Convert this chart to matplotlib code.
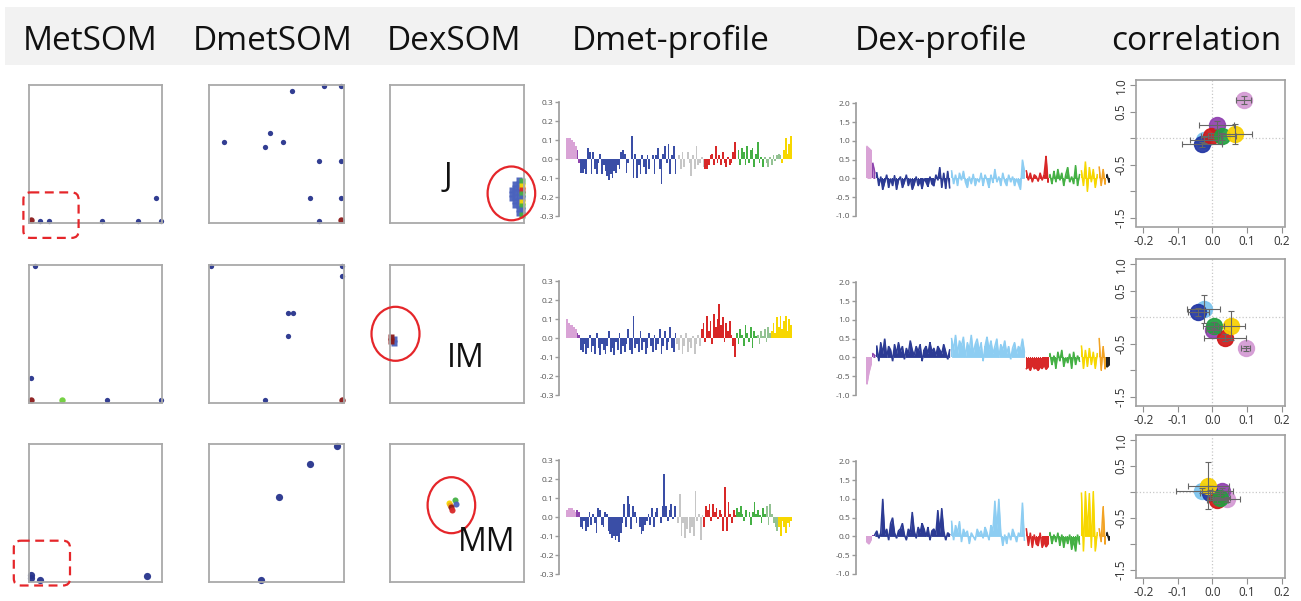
import matplotlib
matplotlib.use('Agg')
import matplotlib.pyplot as plt
from matplotlib.patches import Rectangle, Ellipse, FancyBboxPatch
import numpy as np

W, H = 1301, 601
FONT = ['Open Sans', 'DejaVu Sans']
plt.rcParams['font.family'] = FONT
plt.rcParams['axes.unicode_minus'] = False

# ---------------- text ----------------
titles = ["MetSOM", "DmetSOM", "DexSOM", "Dmet-profile", "Dex-profile", "correlation"]
row_labels = ["J", "IM", "MM"]

# ---------------- colours ----------------
COL = dict(pink='#d9a3d6', purple='#8e44ad', blue='#3a4ea6', navy='#2c3b94',
           lblue='#8dcdf2', gray='#c6c6c6', red='#d82828', green='#44b044',
           lgreen='#93c293', yellow='#f7d700', orange='#f2a324', black='#222222',
           dred='#8b1a1a', som='#27338c', lgr='#6fcf3a', cblue='#2236a3',
           clblue='#7cc4ee', cpink='#d49ad4', cpurple='#9040b0', cred='#d01818',
           cgreen='#22a040', cyellow='#f8d000', sblue='#4a62bd')

# ---------------- SOM maps (unit-box coords, colour) ----------------
metsom_J = [(0.013, 0.017, 'dred'), (0.08, 0.012, 'som'), (0.15, 0.012, 'som'),
            (0.55, 0.012, 'som'), (0.82, 0.012, 'som'), (0.99, 0.012, 'som'),
            (0.953, 0.18, 'som')]
metsom_IM = [(0.044, 0.988, 'som'), (0.013, 0.183, 'som'), (0.013, 0.017, 'dred'),
             (0.247, 0.017, 'lgr'), (0.587, 0.017, 'som'), (0.99, 0.017, 'som')]
metsom_MM = [(0.013, 0.05, 'som'), (0.013, 0.025, 'som'), (0.08, 0.015, 'som'),
             (0.888, 0.042, 'som')]
dmetsom_J = [(0.615, 0.953, 'som'), (0.851, 0.988, 'som'), (0.982, 0.988, 'som'),
             (0.113, 0.585, 'som'), (0.449, 0.649, 'som'), (0.549, 0.585, 'som'),
             (0.413, 0.552, 'som'), (0.815, 0.448, 'som'), (0.982, 0.448, 'som'),
             (0.749, 0.179, 'som'), (0.982, 0.179, 'som'), (0.815, 0.012, 'som'),
             (0.982, 0.017, 'dred')]
dmetsom_IM = [(0.013, 0.988, 'som'), (0.987, 0.988, 'som'), (0.987, 0.918, 'som'),
              (0.585, 0.649, 'som'), (0.621, 0.649, 'som'), (0.588, 0.483, 'som'),
              (0.415, 0.017, 'som'), (0.987, 0.017, 'dred')]
dmetsom_MM = [(0.951, 0.98, 'som'), (0.749, 0.852, 'som'), (0.518, 0.615, 'som'),
              (0.382, 0.012, 'som')]
dexsom_J = [(0.910, 0.24, 'sblue'), (0.910, 0.21, 'sblue'), (0.910, 0.18, 'sblue'),
            (0.935, 0.28, 'sblue'), (0.935, 0.25, 'sblue'), (0.935, 0.22, 'sblue'),
            (0.935, 0.19, 'sblue'), (0.935, 0.16, 'sblue'), (0.935, 0.13, 'sblue'),
            (0.960, 0.31, 'sblue'), (0.960, 0.28, 'sblue'), (0.960, 0.25, 'sblue'),
            (0.960, 0.22, 'sblue'), (0.960, 0.19, 'sblue'), (0.960, 0.16, 'sblue'),
            (0.960, 0.13, 'sblue'), (0.960, 0.10, 'sblue'), (0.960, 0.07, 'sblue'),
            (0.985, 0.30, 'green'), (0.985, 0.27, 'yellow'), (0.985, 0.24, 'red'),
            (0.985, 0.21, 'green'), (0.985, 0.18, 'sblue'), (0.985, 0.15, 'yellow'),
            (0.985, 0.12, 'green'), (0.985, 0.09, 'sblue'), (0.985, 0.06, 'green')]
dexsom_IM = [(0.030, 0.46, 'sblue'), (0.030, 0.435, 'sblue'),
             (0.012, 0.475, 'dred'), (0.012, 0.445, 'dred')]
dexsom_MM = [(0.439, 0.568, 'yellow'), (0.452, 0.556, 'orange'), (0.485, 0.592, 'green'),
             (0.495, 0.563, 'sblue'), (0.459, 0.538, 'dred'), (0.464, 0.521, 'red')]

# ---------------- Dmet profiles ----------------
dmet_colors = ['pink', 'purple', 'blue', 'gray', 'red', 'green', 'lgreen', 'yellow']
dmet_J = [
    [0.11, 0.11, 0.11, 0.10, 0.09, 0.07],
    [0.05, -0.02],
    [-0.07, -0.07, -0.05, -0.08, 0.06, 0.04, -0.08, 0.04, -0.05, -0.08, -0.02, 0.03,
     -0.08, -0.03, -0.06, -0.09, -0.11, -0.08, -0.10, -0.06, -0.07, -0.03, -0.05, 0.04,
     0.05, 0.03, -0.07, -0.02, 0.0, 0.12, -0.10, 0.03, -0.10, -0.03, -0.08, 0.02, -0.04,
     -0.08, 0.02, -0.05, 0.0, 0.02, -0.08, 0.02, 0.06, -0.05, -0.13, 0.03, 0.07, -0.02,
     0.08, -0.08, 0.02, 0.07, -0.08],
    [0.0, 0.02, -0.05, 0.04, -0.04, 0.0, 0.04, -0.02, -0.09, 0.02, -0.05, 0.07, -0.03,
     -0.02, 0.01, -0.04],
    [-0.05, -0.05, -0.03, 0.02, 0.03, -0.03, 0.07, -0.02, 0.02, -0.03, 0.04, -0.02,
     -0.04, 0.01, -0.03, -0.02, 0.04, 0.09, 0.0],
    [0.05, -0.03, 0.06, 0.04, -0.03, 0.07, -0.02, 0.05, 0.06, -0.04, 0.03, 0.09, -0.02,
     0.01, -0.04],
    [0.01, -0.02, -0.04, 0.01, -0.03, 0.02, -0.01, 0.02, 0.03, 0.02],
    [-0.02, 0.05, 0.11, 0.03, 0.08, 0.12],
]
dmet_IM = [
    [0.10, 0.08, 0.07, 0.07, 0.06, 0.05],
    [0.03, 0.02],
    [-0.06, -0.07, -0.03, -0.08, -0.05, 0.02, -0.07, -0.04, -0.08, 0.03, -0.05, -0.09,
     -0.03, -0.06, -0.08, -0.04, 0.04, -0.07, -0.05, -0.09, -0.02, -0.06, 0.03, -0.08,
     -0.04, -0.07, -0.03, 0.05, -0.06, -0.08, 0.12, -0.05, -0.03, -0.07, 0.04, -0.06,
     -0.02, -0.08, -0.05, 0.03, -0.04, -0.07, 0.02, -0.06, -0.03, 0.05, -0.08, -0.04,
     0.04, -0.06, -0.02, 0.06, -0.05, -0.07, 0.03],
    [-0.03, -0.06, 0.02, -0.08, -0.04, 0.03, -0.07, -0.02, -0.05, 0.01, -0.08, -0.03,
     0.02, -0.04],
    [0.05, 0.08, -0.02, 0.12, 0.04, 0.09, -0.03, 0.13, 0.06, 0.10, 0.18, 0.07, 0.11,
     -0.02, 0.08, 0.04, 0.09, 0.02, -0.04, -0.10],
    [0.03, -0.03, 0.05, 0.02, -0.04, 0.07, 0.03, -0.02, 0.06, -0.05, 0.04, 0.01],
    [0.02, -0.03, 0.04, 0.01, 0.05, -0.02, 0.06, 0.03],
    [0.04, 0.08, 0.03, 0.11, 0.06, 0.12, 0.05, 0.09, 0.12, 0.04, 0.10, 0.07],
]
dmet_MM = [
    [0.04, 0.05, 0.05, 0.05, 0.04, 0.03],
    [0.04, 0.03],
    [-0.05, -0.06, -0.02, -0.07, -0.05, 0.03, -0.04, 0.02, -0.03, -0.08, 0.05, 0.04,
     -0.04, -0.05, 0.03, 0.02, -0.07, -0.09, -0.11, -0.10, -0.12, -0.10, -0.13, -0.08,
     -0.03, 0.07, -0.05, 0.11, 0.07, -0.06, 0.06, 0.03, -0.03, 0.0, -0.05, -0.09, -0.07,
     -0.04, -0.02, 0.02, -0.04, 0.05, -0.05, 0.03, 0.05, 0.0, -0.03, 0.06, 0.23, 0.06,
     -0.02, 0.04, 0.07, -0.01, 0.06],
    [0.0, -0.03, 0.12, -0.10, -0.03, -0.11, -0.06, 0.0, -0.08, -0.05, -0.10, 0.14,
     -0.02, 0.02, -0.12, 0.01],
    [-0.05, 0.06, 0.04, 0.07, -0.02, 0.07, 0.03, 0.05, -0.01, 0.04, 0.02, -0.07, 0.16,
     -0.07, 0.08, 0.02, -0.03, 0.04, 0.01],
    [0.05, 0.03, 0.06, 0.02, -0.02, 0.04, 0.0, 0.03, -0.04, 0.03, 0.08, 0.02, 0.04,
     0.01, -0.03, 0.05, 0.02],
    [0.06, -0.04, 0.07, 0.02, -0.03, -0.05, -0.07],
    [-0.05, -0.10, -0.02, -0.05, -0.08, -0.03, -0.05, -0.02],
]
dmet_ticks = [-0.3, -0.2, -0.1, 0.0, 0.1, 0.2, 0.3]
dmet_ticklabels = ['-0.3', '-0.2', '-0.1', '0.0', '0.1', '0.2', '0.3']

# ---------------- Dex profiles ----------------
dex_colors = ['pink', 'purple', 'navy', 'lblue', 'red', 'green', 'yellow', 'orange', 'black']
dex_J = [
    [0.85, 0.80, 0.75],
    [0.40, 0.15],
    [0.15, -0.2, 0.05, -0.3, -0.1, 0.1, -0.25, 0.0, -0.2, 0.08, -0.3, -0.05, 0.05, -0.25,
     -0.1, 0.1, -0.2, 0.0, -0.3, -0.15, 0.05, -0.2, -0.05, -0.28, 0.0, -0.1, -0.22, 0.05,
     -0.15, -0.2, 0.1, -0.05, 0.3, -0.25, 0.15, -0.28, 0.2, -0.25],
    [0.2, -0.15, 0.1, -0.2, 0.15, -0.05, 0.2, -0.1, -0.25, 0.05, -0.15, 0.12, -0.2, 0.0,
     -0.1, 0.15, -0.2, 0.1, -0.05, -0.25, 0.1, -0.12, 0.25, -0.1, 0.05, -0.2, 0.15, -0.08,
     -0.2, 0.1, -0.1, 0.05, -0.2, 0.0, -0.15, -0.3, 0.5, 0.2],
    [0.2, -0.05, 0.15, -0.1, 0.1, 0.05, -0.08, 0.15, -0.05, 0.1, 0.6, -0.1],
    [0.1, -0.15, 0.2, -0.1, 0.25, -0.05, 0.15, -0.2, 0.1, 0.3, -0.1, 0.05, -0.15, 0.35,
     -0.2, 0.1],
    [0.2, -0.2, 0.45, -0.35, 0.3, -0.1, 0.25, -0.25, 0.1],
    [0.3, -0.2, 0.25, -0.15],
    [0.1, -0.1],
]
dex_IM = [
    [-0.7, -0.4, -0.2],
    [0.1, 0.05],
    [0.3, -0.1, 0.4, 0.1, 0.5, 0.0, 0.3, 0.2, -0.1, 0.35, 0.1, 0.4, 0.15, 0.3, -0.05,
     0.25, 0.1, 0.45, 0.2, 0.05, 0.3, 0.15, 0.35, -0.1, 0.2, 0.3, 0.1, 0.4, 0.15, 0.25,
     0.05, 0.3, 0.2, 0.1, 0.35, 0.15, -0.05, 0.2],
    [0.5, 0.2, 0.6, 0.1, 0.45, 0.3, 0.55, 0.0, 0.4, 0.2, 0.6, 0.1, 0.35, 0.5, 0.15, 0.4,
     -0.1, 0.3, 0.55, 0.2, 0.45, 0.1, 0.3, 0.5, 0.0, 0.35, 0.2, 0.45, 0.1, 0.3, -0.05,
     0.25, 0.4, 0.1, 0.3, 0.2, 0.5, 0.15],
    [-0.3, -0.25, -0.35, -0.2, -0.3, -0.28, -0.35, -0.25, -0.3, -0.2, -0.32, -0.25],
    [0.1, -0.2, 0.05, -0.3, 0.15, -0.1, 0.2, -0.25, 0.0, -0.15, 0.1, -0.3, 0.15, -0.2,
     0.05, -0.1],
    [0.3, -0.3, 0.2, -0.25, 0.25, -0.2, 0.15, -0.3, 0.1],
    [0.5, -0.35, 0.3, -0.3],
    [-0.25, -0.2],
]
dex_MM = [
    [-0.15, -0.2, -0.1],
    [0.05],
    [0.05, 0.15, -0.05, 0.1, 1.0, 0.05, 0.2, -0.1, 0.35, 0.5, 0.1, -0.05, 0.15, 0.2,
     0.35, 0.05, -0.1, 0.2, 0.1, 0.65, 0.15, -0.05, 0.25, 0.1, 0.35, 0.2, 0.0, 0.25, -0.1,
     0.15, 0.2, 0.05, 0.7, 0.1, 0.75, 0.15, -0.1, 0.1, 0.05],
    [0.4, -0.1, 0.3, 0.1, 0.4, -0.15, 0.2, 0.05, 0.15, -0.2, 0.1, 0.0, -0.1, 0.2, 0.05,
     0.15, -0.05, 0.25, 0.1, -0.1, 0.3, 0.15, 0.95, 0.2, 1.0, 0.1, -0.25, 0.05, -0.2, 0.1,
     -0.1, 0.2, 0.05, -0.15, 0.1, 0.0, 0.9, -0.1],
    [0.2, -0.25, 0.1, -0.3, 0.05, -0.2, -0.25, 0.1, -0.3, -0.15, -0.28, -0.2],
    [0.1, -0.2, 0.05, -0.15, 0.1, -0.25, 0.05, -0.3, 0.0, -0.2, 0.05, -0.35, -0.1, -0.4,
     0.05, -0.2],
    [1.15, -0.4, 1.2, 0.1, 1.15, -0.3, 1.2, -0.4, 0.1],
    [0.2, -0.15, 0.8, -0.2],
    [0.1, -0.1],
]
dex_ticks = [-1.0, -0.5, 0.0, 0.5, 1.0, 1.5, 2.0]
dex_ticklabels = ['-1.0', '-0.5', '0.0', '0.5', '1.0', '1.5', '2.0']

# ---------------- correlation ----------------
corr_colors = ['cpink', 'cpurple', 'clblue', 'cblue', 'cred', 'cgreen', 'cyellow']
corr_J_x = [0.091, 0.012, -0.025, -0.030, -0.004, 0.027, 0.065]
corr_J_y = [0.726, 0.25, -0.036, -0.113, 0.054, 0.036, 0.083]
corr_J_xerr = [0.022, 0.05, 0.04, 0.058, 0.03, 0.04, 0.05]
corr_J_yerr = [0.07, 0.08, 0.06, 0.05, 0.05, 0.06, 0.18]
corr_IM_x = [0.096, 0.002, -0.025, -0.041, 0.037, 0.004, 0.055]
corr_IM_y = [-0.583, -0.244, 0.16, 0.10, -0.38, -0.155, -0.155]
corr_IM_xerr = [0.012, 0.02, 0.048, 0.03, 0.06, 0.03, 0.04]
corr_IM_yerr = [0.05, 0.05, 0.27, 0.08, 0.06, 0.07, 0.27]
corr_MM_x = [0.041, 0.029, -0.031, -0.007, 0.014, 0.022, -0.012]
corr_MM_y = [-0.144, 0.025, 0.025, -0.02, -0.156, -0.113, 0.125]
corr_MM_xerr = [0.04, 0.03, 0.075, 0.03, 0.03, 0.03, 0.06]
corr_MM_yerr = [0.05, 0.05, 0.05, 0.05, 0.05, 0.05, 0.45]
corr_xticks = [-0.2, -0.1, 0.0, 0.1, 0.2]
corr_xticklabels = ['-0.2', '-0.1', '0.0', '0.1', '0.2']
corr_yticks = [-1.5, -1.0, -0.5, 0.0, 0.5, 1.0]
corr_yticklabels = ['-1.5', '', '-0.5', '', '0.5', '1.0']

# ================= drawing =================
fig = plt.figure(figsize=(W / 100, H / 100), dpi=100)


def ax_px(left, top, right, bottom, **kw):
    return fig.add_axes([left / W, 1 - bottom / H, (right - left) / W, (bottom - top) / H], **kw)


rows = [
    (metsom_J, dmetsom_J, dexsom_J, dmet_J, dex_J, corr_J_x, corr_J_y, corr_J_xerr, corr_J_yerr),
    (metsom_IM, dmetsom_IM, dexsom_IM, dmet_IM, dex_IM, corr_IM_x, corr_IM_y, corr_IM_xerr, corr_IM_yerr),
    (metsom_MM, dmetsom_MM, dexsom_MM, dmet_MM, dex_MM, corr_MM_x, corr_MM_y, corr_MM_xerr, corr_MM_yerr),
]

som_cols = [(29.3, 162.1), (209.3, 343.8), (389.7, 524.1)]
som_tops = [84.8, 264.8, 443.6]
som_h = 138.0
dmet_tops = [102.3, 281.3, 460.3]
dex_tops = [103.3, 282.3, 461.3]
corr_tops = [80.0, 259.0, 435.0]
corr_h = [146.5, 146.5, 143.0]


def style_profile_axis(ax, ticks, labels):
    for k in ('top', 'right', 'bottom'):
        ax.spines[k].set_visible(False)
    ax.spines['left'].set_color('#9a9a9a')
    ax.spines['left'].set_linewidth(1.2)
    ax.set_xticks([])
    ax.set_yticks(ticks)
    ax.set_yticklabels(labels)
    ax.tick_params(axis='y', direction='out', length=3, width=1, color='#9a9a9a',
                   labelsize=6, labelcolor='#555555', pad=1)
    ax.patch.set_alpha(0)


for r, (met, dmet_s, dex_s, dmet_p, dex_p, cx, cy, cxe, cye) in enumerate(rows):
    # SOM boxes
    for c, pts in enumerate([met, dmet_s, dex_s]):
        l, rr = som_cols[c]
        ax = ax_px(l, som_tops[r], rr, som_tops[r] + som_h)
        ax.set_xlim(0, 1)
        ax.set_ylim(0, 1)
        ax.set_xticks([])
        ax.set_yticks([])
        for s in ax.spines.values():
            s.set_color('#a9a9a9')
            s.set_linewidth(1.3)
        for (x, y, col) in pts:
            if c == 2:
                mk, ms = ('s', 4.6) if r < 2 else ('o', 4.4)
            else:
                mk = 'o'
                ms = 5.2 if r == 2 else 3.8
                if col in ('dred', 'lgr'):
                    ms = 4.6 if r < 2 else 5.2
            ax.plot([x], [y], marker=mk, ms=ms, color=COL[col], mec='none',
                    ls='none', clip_on=False, alpha=0.95)

    # Dmet profile (bars)
    vals = [v for seg in dmet_p for v in seg]
    cols = [COL[dmet_colors[i]] for i, seg in enumerate(dmet_p) for _ in seg]
    n = len(vals)
    pxw = (792 - 566) / n
    ax = ax_px(559.3, dmet_tops[r], 802, dmet_tops[r] + 114)
    x0 = -(566 - 559.3) / pxw - 0.5
    ax.set_xlim(x0, x0 + (802 - 559.3) / pxw)
    ax.set_ylim(-0.3, 0.3)
    ax.bar(np.arange(n), vals, width=1.0, color=cols, linewidth=0)
    style_profile_axis(ax, dmet_ticks, dmet_ticklabels)

    # Dex profile (dense line + fill)
    n = sum(len(s) for s in dex_p)
    pxw = (1110 - 866) / n
    ax = ax_px(856, dex_tops[r], 1115, dex_tops[r] + 112.7)
    x0 = -(866 - 856) / pxw - 0.5
    ax.set_xlim(x0, x0 + (1115 - 856) / pxw)
    ax.set_ylim(-1.0, 2.0)
    start = 0
    for i, seg in enumerate(dex_p):
        xs = np.arange(start, start + len(seg))
        colr = COL[dex_colors[i]]
        if len(seg) == 1:
            ax.bar(xs, seg, width=1.0, color=colr, linewidth=0)
        else:
            ax.fill_between(xs, 0, seg, color=colr, linewidth=0)
            ax.plot(xs, seg, color=colr, lw=1.1, solid_joinstyle='miter')
            ax.bar(xs, seg, width=0.6, color=colr, linewidth=0)
        start += len(seg)
    style_profile_axis(ax, dex_ticks, dex_ticklabels)

    # correlation
    ax = ax_px(1136, corr_tops[r], 1285, corr_tops[r] + corr_h[r])
    ax.set_xlim(-0.221, 0.21)
    ax.set_ylim(-1.66, 1.1)
    ax.axhline(0, color='#c8c8c8', lw=0.9, ls=':', zorder=1)
    ax.axvline(0, color='#c8c8c8', lw=0.9, ls=':', zorder=1)
    for i in range(len(cx)):
        ax.plot([cx[i]], [cy[i]], 'o', ms=11.5, color=COL[corr_colors[i]],
                mec=COL[corr_colors[i]], alpha=0.92, zorder=3)
        ax.errorbar([cx[i]], [cy[i]], xerr=[cxe[i]], yerr=[cye[i]], fmt='none',
                    ecolor='#666666', elinewidth=0.8, capsize=2, capthick=0.8, zorder=4)
    for s in ax.spines.values():
        s.set_color('#a0a0a0')
        s.set_linewidth(1.2)
    ax.set_xticks(corr_xticks)
    ax.set_xticklabels(corr_xticklabels)
    ax.set_yticks(corr_yticks)
    ax.set_yticklabels(corr_yticklabels, rotation=90, va='center')
    ax.tick_params(direction='out', length=4, width=0.8, color='#909090',
                   labelsize=8.5, labelcolor='#333333', pad=2)

# overlay in pixel coordinates
ov = fig.add_axes([0, 0, 1, 1], zorder=20)
ov.set_xlim(0, W)
ov.set_ylim(H, 0)
ov.axis('off')
ov.patch.set_alpha(0)

band = fig.add_axes([0, 0, 1, 1], zorder=-5)
band.set_xlim(0, W)
band.set_ylim(H, 0)
band.axis('off')
band.add_patch(Rectangle((5, 7), 1290, 58, facecolor='#f2f2f2', edgecolor='none'))

title_x = [90, 273, 454, 671, 941, 1196]
for t, x in zip(titles, title_x):
    ov.text(x, 50, t, fontsize=24, ha='center', va='baseline', color='#111111',
            family=FONT)

label_pos = [(448, 177), (465.5, 358.6), (486.9, 542.4)]
for t, (x, y) in zip(row_labels, label_pos):
    ov.text(x, y, t, fontsize=23, ha='center', va='center', color='#111111', family=FONT)

red = '#e5262a'
for (cxp, cyp, w, h) in [(511.4, 193.4, 47.6, 53.8), (395.5, 333.8, 48, 54),
                         (451.4, 505.2, 47.6, 56)]:
    ov.add_patch(Ellipse((cxp, cyp), w, h, fill=False, edgecolor=red, lw=1.6))
for (x, y, w, h) in [(23.4, 192.4, 55.2, 45.5), (13.8, 540.7, 56.2, 44.8)]:
    ov.add_patch(FancyBboxPatch((x, y), w, h, boxstyle='round,pad=0,rounding_size=7',
                                fill=False, edgecolor=red, lw=1.6, ls=(0, (4, 2.5))))

fig.savefig('out.png', dpi=100)
